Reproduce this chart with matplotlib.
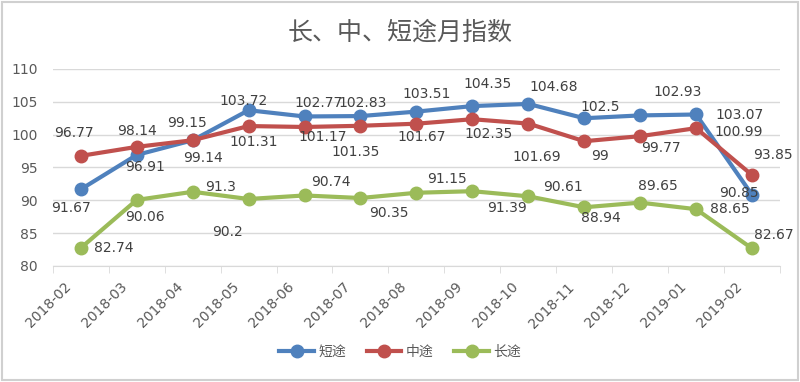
import matplotlib
matplotlib.use('Agg')
import matplotlib.pyplot as plt
import matplotlib.transforms as mtrans
from matplotlib.patches import Rectangle
import numpy as np

plt.rcParams['font.family'] = ['DejaVu Sans', 'Noto Sans CJK SC']

months = ['2018-02', '2018-03', '2018-04', '2018-05', '2018-06', '2018-07', '2018-08',
          '2018-09', '2018-10', '2018-11', '2018-12', '2019-01', '2019-02']
short_trip = [91.67, 96.91, 99.14, 103.72, 102.77, 102.83, 103.51, 104.35, 104.68, 102.5, 102.93, 103.07, 90.85]
mid_trip = [96.77, 98.14, 99.15, 101.31, 101.17, 101.35, 101.67, 102.35, 101.69, 99, 99.77, 100.99, 93.85]
long_trip = [82.74, 90.06, 91.3, 90.2, 90.74, 90.35, 91.15, 91.39, 90.61, 88.94, 89.65, 88.65, 82.67]
series_names = ['短途', '中途', '长途']

# label offsets in pixels (dx right, dy down)
short_off = [(-10, 19), (8, 12), (10, 18), (-5, -9), (14, -13), (2, -13), (10, -18),
             (15, -22), (25, -17), (16, -11), (37, -23), (43, 1), (-13, -2)]
mid_off = [(-7, -23), (0, -16), (-6, -17), (5, 16), (18, 10), (-5, 26), (5, 13),
           (16, 15), (8, 33), (16, 15), (21, 12), (43, 4), (21, -20)]
long_off = [(33, 0), (8, 17), (28, -5), (-21, 33), (26, -13), (28, 15), (31, -14),
            (35, 17), (35, -9), (17, 11), (18, -17), (34, 0), (22, -13)]

colors = ['#4F81BD', '#C0504D', '#9BBB59']
txt = '#595959'

fig = plt.figure(figsize=(8, 3.82), dpi=100)
ax = fig.add_axes([0.066, 0.3037, 0.909, 0.5157])

x = np.arange(len(months))
all_series = [short_trip, mid_trip, long_trip]
all_off = [short_off, mid_off, long_off]
for vals, offs, c, name in zip(all_series, all_off, colors, series_names):
    ax.plot(x, vals, color=c, lw=3, marker='o', ms=9, label=name, zorder=3)
    for i in range(len(vals)):
        ax.annotate(str(vals[i]), (x[i], vals[i]), xytext=(offs[i][0], -offs[i][1]),
                    textcoords='offset pixels', ha='center', va='center',
                    fontsize=10, color='#404040', zorder=4)

ax.set_xlim(-0.5, len(months) - 0.5)
ax.set_ylim(80, 110)
ax.set_yticks(np.arange(80, 111, 5))
ax.grid(axis='y', color='#D9D9D9', lw=1)
ax.set_axisbelow(True)
for s in ['top', 'right', 'left']:
    ax.spines[s].set_visible(False)
ax.spines['bottom'].set_color('#D9D9D9')
ax.tick_params(axis='y', length=0, labelsize=10, labelcolor=txt, pad=11)
ax.set_xticks(x)
ax.set_xticks(np.arange(-0.5, len(months), 1), minor=True)
ax.tick_params(axis='x', which='major', length=0, labelsize=10, labelcolor=txt, pad=10)
ax.tick_params(axis='x', which='minor', length=5, color='#D9D9D9')
ax.set_xticklabels(months, rotation=45, ha='right', rotation_mode='anchor')
shift = mtrans.ScaledTranslation(-17 / 100, 0, fig.dpi_scale_trans)
for lab in ax.get_xticklabels():
    lab.set_transform(lab.get_transform() + shift)

fig.text(0.5, 0.915, '长、中、短途月指数', ha='center', va='center', fontsize=18,
         color=txt, family=['Noto Sans CJK SC'])

fig.legend(loc='center', bbox_to_anchor=(0.5, 0.079), ncol=3, frameon=False,
           handlelength=2.5, columnspacing=1.5, handletextpad=0.3,
           labelcolor=txt, prop={'family': ['Noto Sans CJK SC'], 'size': 10})

fig.patches.append(Rectangle((0.003, 0.005), 0.994, 0.99, transform=fig.transFigure,
                             fill=False, edgecolor='#D0D0D0', lw=1.5))

fig.savefig('out.png', dpi=100)
